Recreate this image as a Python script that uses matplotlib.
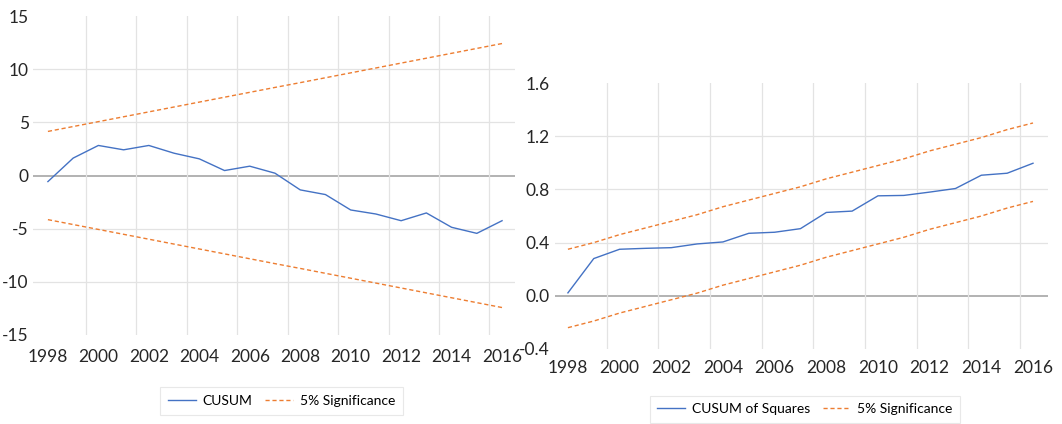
import matplotlib.pyplot as plt
from matplotlib.ticker import FixedLocator

plt.rcParams['font.family'] = ['Lato', 'DejaVu Sans']

years = list(range(1998, 2017))

cusum = [-0.57, 1.64, 2.83, 2.42, 2.83, 2.10, 1.57, 0.47, 0.88, 0.22,
         -1.35, -1.79, -3.24, -3.62, -4.25, -3.52, -4.87, -5.44, -4.25]
cusum_upper = [4.15, 4.61, 5.07, 5.53, 5.99, 6.45, 6.91, 7.37, 7.83, 8.29,
               8.74, 9.20, 9.66, 10.12, 10.58, 11.04, 11.50, 11.96, 12.42]
cusum_lower = [-v for v in cusum_upper]

cusumsq = [0.022, 0.28, 0.35, 0.357, 0.362, 0.39, 0.405, 0.47, 0.478, 0.505,
           0.627, 0.637, 0.752, 0.755, 0.78, 0.807, 0.907, 0.922, 0.997]
sq_upper = [0.35, 0.40, 0.46, 0.51, 0.56, 0.61, 0.67, 0.72, 0.77, 0.82,
            0.88, 0.93, 0.98, 1.03, 1.09, 1.14, 1.19, 1.25, 1.30]
sq_lower = [-0.24, -0.19, -0.13, -0.08, -0.03, 0.02, 0.08, 0.13, 0.18, 0.23,
            0.29, 0.34, 0.39, 0.44, 0.50, 0.55, 0.60, 0.66, 0.71]

blue = '#4472C4'
orange = '#ED7D31'
grid = '#E3E3E3'
zero = '#A6A6A6'

fig = plt.figure(figsize=(10.62, 4.24), dpi=100)
ax1 = fig.add_axes([0.0311, 0.210, 0.454, 0.752])
ax2 = fig.add_axes([0.5226, 0.177, 0.4642, 0.627])


def style(ax, yticks, ylim, xlim, fmt):
    ax.set_xlim(*xlim)
    ax.set_ylim(*ylim)
    for s in ax.spines.values():
        s.set_visible(False)
    ax.xaxis.set_major_locator(FixedLocator(years[::2]))
    ax.xaxis.set_minor_locator(FixedLocator([y + 1.5 for y in years[::2][:-1]]))
    ax.yaxis.set_major_locator(FixedLocator(yticks))
    ax.set_yticklabels([fmt(v) for v in yticks])
    ax.tick_params(axis='both', which='both', length=0, labelsize=12.5, colors='#262626')
    ax.grid(True, axis='x', which='minor', color=grid, lw=0.9)
    for v in yticks:
        if v == 0:
            ax.axhline(0, color=zero, lw=1.2, zorder=1)
        elif v not in (ylim[0], ylim[1]):
            ax.axhline(v, color=grid, lw=0.9, zorder=0)


style(ax1, [-15, -10, -5, 0, 5, 10, 15], (-15, 15), (1997.41, 2016.52),
      lambda v: '%d' % v)
ax1.tick_params(axis='y', pad=3)
ax1.tick_params(axis='x', pad=10)
ax1.plot(years, cusum, color=blue, lw=1.0, label='CUSUM', zorder=3)
ax1.plot(years, cusum_upper, color=orange, lw=1.0, ls=(0, (3, 2)),
         label='5% Significance', zorder=3)
ax1.plot(years, cusum_lower, color=orange, lw=1.0, ls=(0, (3, 2)), zorder=3)

style(ax2, [-0.4, 0.0, 0.4, 0.8, 1.2, 1.6], (-0.4, 1.6), (1997.5, 2016.58),
      lambda v: '%.1f' % v)
ax2.tick_params(axis='y', pad=4)
ax2.tick_params(axis='x', pad=8)
ax2.plot(years, cusumsq, color=blue, lw=1.0, label='CUSUM of Squares', zorder=3)
ax2.plot(years, sq_upper, color=orange, lw=1.0, ls=(0, (3, 2)),
         label='5% Significance', zorder=3)
ax2.plot(years, sq_lower, color=orange, lw=1.0, ls=(0, (3, 2)), zorder=3)

for ax, cx, cy in [(ax1, 0.265, 0.054), (ax2, 0.758, 0.035)]:
    leg = ax.legend(loc='center', bbox_to_anchor=(cx, cy),
                    bbox_transform=fig.transFigure, ncol=2, fontsize=10,
                    frameon=True, fancybox=False, handlelength=2.0,
                    handletextpad=0.5, columnspacing=0.9, borderpad=0.55)
    leg.get_frame().set_edgecolor(grid)
    leg.get_frame().set_linewidth(0.8)

fig.savefig('out.png', dpi=100)
